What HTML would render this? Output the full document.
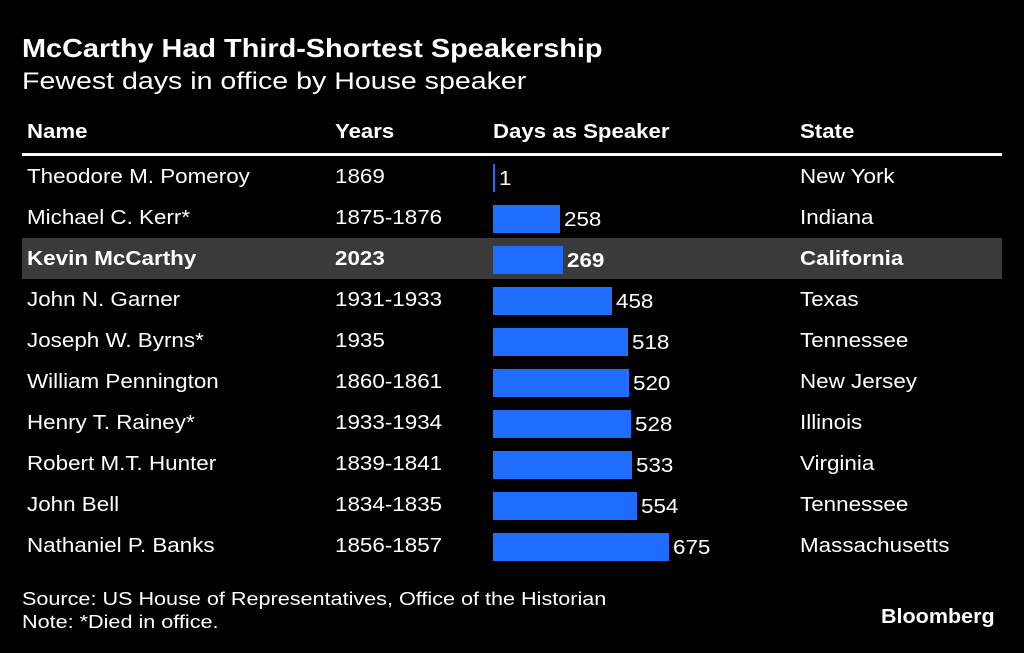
<!DOCTYPE html>
<html><head><meta charset="utf-8">
<style>
body{margin:0;background:#000;width:1024px;height:653px;overflow:hidden;font-family:"Liberation Sans",sans-serif;color:#fff;position:relative}
.a{position:absolute;white-space:nowrap;transform-origin:0 0}
.t{font-size:20px;transform:scaleX(1.12)}
.h{font-size:20px;font-weight:bold;transform:scaleX(1.11)}
</style></head><body>
<div class="a" style="left:22px;top:33px;font-size:26px;font-weight:bold;transform:scaleX(1.11)">McCarthy Had Third-Shortest Speakership</div>
<div class="a" style="left:22px;top:68px;font-size:24px;transform:scaleX(1.19)">Fewest days in office by House speaker</div>
<div class="a h" style="left:27px;top:121px">Name</div>
<div class="a h" style="left:335px;top:121px">Years</div>
<div class="a h" style="left:493px;top:121px">Days as Speaker</div>
<div class="a h" style="left:800px;top:121px">State</div>
<div class="a" style="left:22px;top:153px;width:980px;height:3px;background:#fff"></div>
<div id="rows"></div>
<div class="a" style="left:22px;top:588px;font-size:18px;line-height:23px;transform:scaleX(1.2)">Source: US House of Representatives, Office of the Historian<br>Note: *Died in office.</div>
<div class="a" style="left:881px;top:605px;font-size:20.5px;font-weight:bold;transform:scaleX(1.05)">Bloomberg</div>
<script>
const names=["Theodore M. Pomeroy","Michael C. Kerr*","Kevin McCarthy","John N. Garner","Joseph W. Byrns*","William Pennington","Henry T. Rainey*","Robert M.T. Hunter","John Bell","Nathaniel P. Banks"];
const years=["1869","1875-1876","2023","1931-1933","1935","1860-1861","1933-1934","1839-1841","1834-1835","1856-1857"];
const days=[1,258,269,458,518,520,528,533,554,675];
const states=["New York","Indiana","California","Texas","Tennessee","New Jersey","Illinois","Virginia","Tennessee","Massachusetts"];
const highlight=2;
const x0=493, scale=176/675;
const xs=v=>v*scale;
const c=document.getElementById('rows');
names.forEach((n,i)=>{
  const cy=176+i*41;
  const r=document.createElement('div');
  
  
  const b=i===highlight?'bold':'normal';
  let h='';
  if(i===highlight) h+=`<div class="a" style="left:22px;top:${cy-20}px;width:980px;height:41px;background:#3a3a3a"></div>`;
  const w=Math.max(2,xs(days[i]));
  h+=`<div class="a t" style="left:27px;top:${cy-10}px;font-weight:${b}">${n}</div>`;
  h+=`<div class="a t" style="left:335px;top:${cy-10}px;font-weight:${b}">${years[i]}</div>`;
  h+=`<div class="a" style="left:${x0}px;top:${cy-12}px;width:${w}px;height:28px;background:#1f6dff"></div>`;
  h+=`<div class="a t" style="left:${x0+w+4}px;top:${cy-8}px;font-weight:${b}">${days[i]}</div>`;
  h+=`<div class="a t" style="left:800px;top:${cy-10}px;font-weight:${b}">${states[i]}</div>`;
  r.innerHTML=h;c.appendChild(r);
});
</script>
</body></html>
